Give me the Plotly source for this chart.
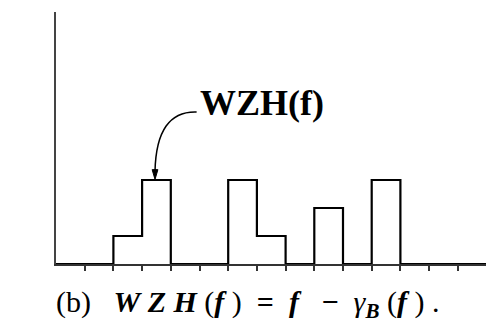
import plotly.graph_objects as go

# bin edges (frequency index) and WZH(f) value per bin
bin_edges = list(range(0, 16))
wzh_values = [0, 0, 1, 3, 0, 0, 3, 1, 0, 2, 0, 3, 0, 0, 0]
tick_vals = list(range(1, 16))
label_text = "WZH(f)"
NB = "\u00a0"
caption = ("(b)" + NB * 3 + "<b><i>W" + NB + "Z" + NB + "H</i></b>" + NB + "(<b><i>f</i></b>" + NB + ")" + NB * 2
           + "<b>=</b>" + NB * 2 + "<b><i>f</i></b>" + NB * 3 + "<b>−</b>" + NB * 2
           + "<i>γ</i><sub><b><i>B</i></b></sub>" + NB + "(<b><i>f</i></b>" + NB + ")" + NB + ".")

# step outline: repeat the last value so the final edge closes
step_y = wzh_values + [wzh_values[-1]]

# page has an 8px body margin; lay out in page pixels then subtract it
OFF = 8
W, H = 494 - OFF, 322 - OFF
L, T = 56 - OFF, 12 - OFF
AXIS_Y = 264 - OFF
B = H - AXIS_Y
unit_x = 28.7
unit_y = 28.0
xmax = (W - L) / unit_x
ymax = (AXIS_Y - T) / unit_y

fig = go.Figure()
fig.add_trace(go.Scatter(
    x=bin_edges, y=step_y, mode="lines", line_shape="hv",
    line=dict(color="black", width=2.2), hoverinfo="skip", showlegend=False,
))

fig.update_layout(
    width=W, height=H,
    margin=dict(l=L, r=0, t=T, b=B),
    paper_bgcolor="white", plot_bgcolor="white",
    xaxis=dict(range=[0, xmax], showgrid=False, zeroline=False,
               showline=True, linecolor="#333", linewidth=2,
               tickmode="array", tickvals=tick_vals, ticks="outside",
               ticklen=5, tickwidth=1.5, tickcolor="#333",
               showticklabels=False),
    yaxis=dict(range=[0, ymax], showgrid=False, zeroline=False,
               showline=True, linecolor="#444", linewidth=2,
               ticks="", showticklabels=False),
)

# curved pointer from the label to the top of the tall bin
tip_x, tip_y = 3.45, 3.02
start_x, start_y = 4.9, 5.43
fig.add_shape(type="path",
              path=f"M {start_x},{start_y} Q {tip_x+0.05},{start_y+0.05} {tip_x},{tip_y+0.3}",
              line=dict(color="black", width=1.5), xref="x", yref="y")
fig.add_shape(type="path",
              path=f"M {tip_x-0.1},{tip_y+0.35} L {tip_x+0.1},{tip_y+0.35} L {tip_x},{tip_y} Z",
              line=dict(color="black", width=1), fillcolor="black", xref="x", yref="y")

fig.add_annotation(x=start_x + 0.05, y=5.75, xref="x", yref="y",
                   text=f"<b>{label_text}</b>", showarrow=False,
                   xanchor="left", yanchor="middle",
                   font=dict(family="Liberation Serif", size=36, color="black"))

cap_x_px, cap_y_px = 54 - OFF, 304 - OFF
fig.add_annotation(x=(cap_x_px - L) / (W - L), y=(AXIS_Y - cap_y_px) / (AXIS_Y - T),
                   xref="paper", yref="paper",
                   text=caption, showarrow=False, xanchor="left", yanchor="middle",
                   font=dict(family="Liberation Serif", size=30, color="black"))

fig.write_html("out.html")
